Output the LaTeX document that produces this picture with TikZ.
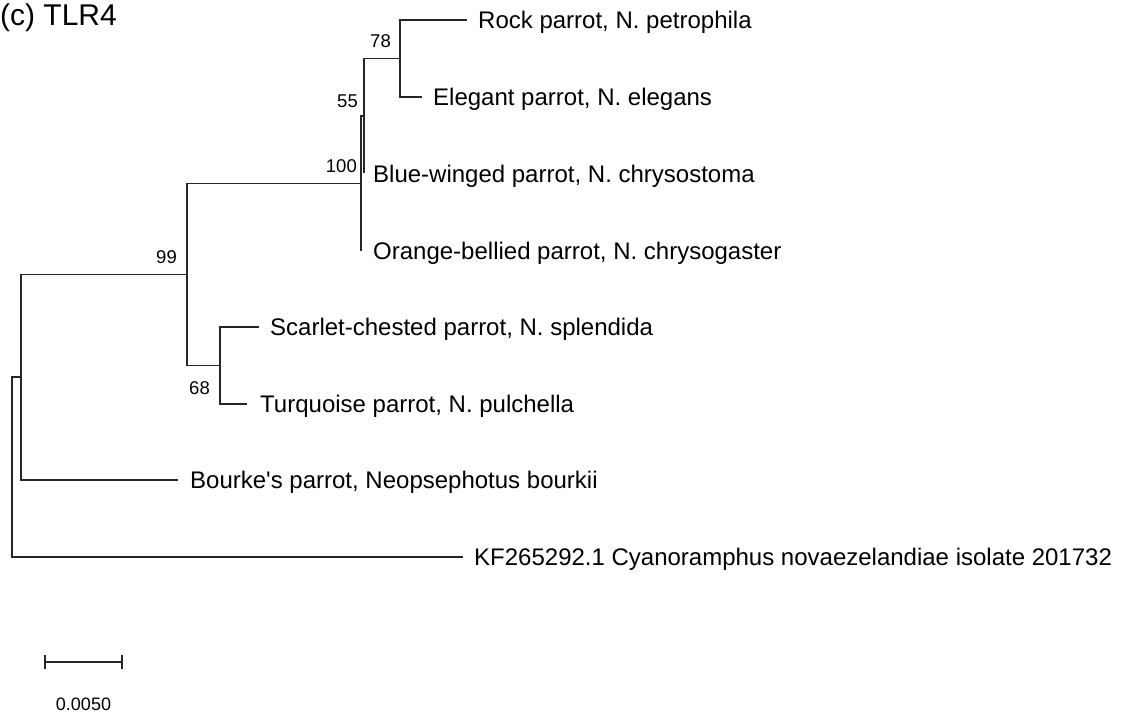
\documentclass[tikz,border=0pt]{standalone}
\usepackage{fontspec}
\setmainfont{Liberation Sans}
\usepackage{tikz}

\begin{document}
\begin{tikzpicture}[x=1pt,y=-1pt,
		branch/.style={line width=1.5pt,black!85},
		leaf/.style={anchor=base west,inner sep=0pt,font=\fontsize{24}{28}\selectfont},
		boot/.style={anchor=base east,inner sep=0pt,font=\fontsize{18.5}{22}\selectfont}]
				\useasboundingbox (0,0) rectangle (1133,717);
				\node[anchor=base west,inner sep=0pt,font=\fontsize{30}{34}\selectfont] (title) at (0,26) {(c) TLR4};
				
				% tips
				\coordinate (rock) at (467,20);
				\coordinate (eleg) at (422,97);
				\coordinate (blue) at (364,173);
				\coordinate (orange) at (361,251);
				\coordinate (scarlet) at (259,327);
				\coordinate (turq) at (247,404);
				\coordinate (bourke) at (178,480);
				\coordinate (kf) at (463,557);
				
				% internal nodes
				\coordinate (n78) at (400,58.5);
				\coordinate (n55) at (364,116);
				\coordinate (n100) at (361,183.5);
				\coordinate (n99) at (187,274.5);
				\coordinate (n68) at (220,365.5);
				\coordinate (nA) at (21,377);
				\coordinate (root) at (12,467);
				
				\draw[branch] (n78) |- (rock);
				\draw[branch] (n78) |- (eleg);
				\draw[branch] (n55) |- (n78);
				\draw[branch] (n55) |- (blue);
				\draw[branch] (n100) |- (n55);
				\draw[branch] (n100) |- (orange);
				\draw[branch] (n99) |- (n100);
				\draw[branch] (n99) |- (n68);
				\draw[branch] (n68) |- (scarlet);
				\draw[branch] (n68) |- (turq);
				\draw[branch] (nA) |- (n99);
				\draw[branch] (nA) |- (bourke);
				\draw[branch] (root) |- (nA);
				\draw[branch] (root) |- (kf);
				
				\node[leaf] (rockl) at (478,29) {Rock parrot, N. petrophila};
				\node[leaf] (elegl) at (433,105.5) {Elegant parrot, N. elegans};
				\node[leaf] (bluel) at (373,182) {Blue-winged parrot, N. chrysostoma};
				\node[leaf] (orangel) at (373,259.5) {Orange-bellied parrot, N. chrysogaster};
				\node[leaf] (scarletl) at (270,335.5) {Scarlet-chested parrot, N. splendida};
				\node[leaf] (turql) at (260,412.5) {Turquoise parrot, N. pulchella};
				\node[leaf] (bourkel) at (190,488.5) {Bourke\textquotesingle s parrot, Neopsephotus bourkii};
				\node[leaf] (kfl) at (474,565.5) {KF265292.1 Cyanoramphus novaezelandiae isolate 201732};
				
				% bootstrap values
				\node[boot] (b78) at (391,48) {78};
				\node[boot] (b55) at (358,107) {55};
				\node[boot] (b100) at (357,172) {100};
				\node[boot] (b99) at (177,263) {99};
				\node[boot] (b68) at (210,394) {68};
				
				% scale bar
				\coordinate (sa) at (45,662);
				\coordinate (sb) at (122,662);
				\draw[branch] (sa) -- (sb);
				\draw[branch] ([yshift=7pt]sa) -- ([yshift=-7pt]sa);
				\draw[branch] ([yshift=7pt]sb) -- ([yshift=-7pt]sb);
				\node[anchor=base,inner sep=0pt,font=\fontsize{18}{21}\selectfont] (scale) at (83.5,710) {0.0050};
			\end{tikzpicture}
\end{document}
